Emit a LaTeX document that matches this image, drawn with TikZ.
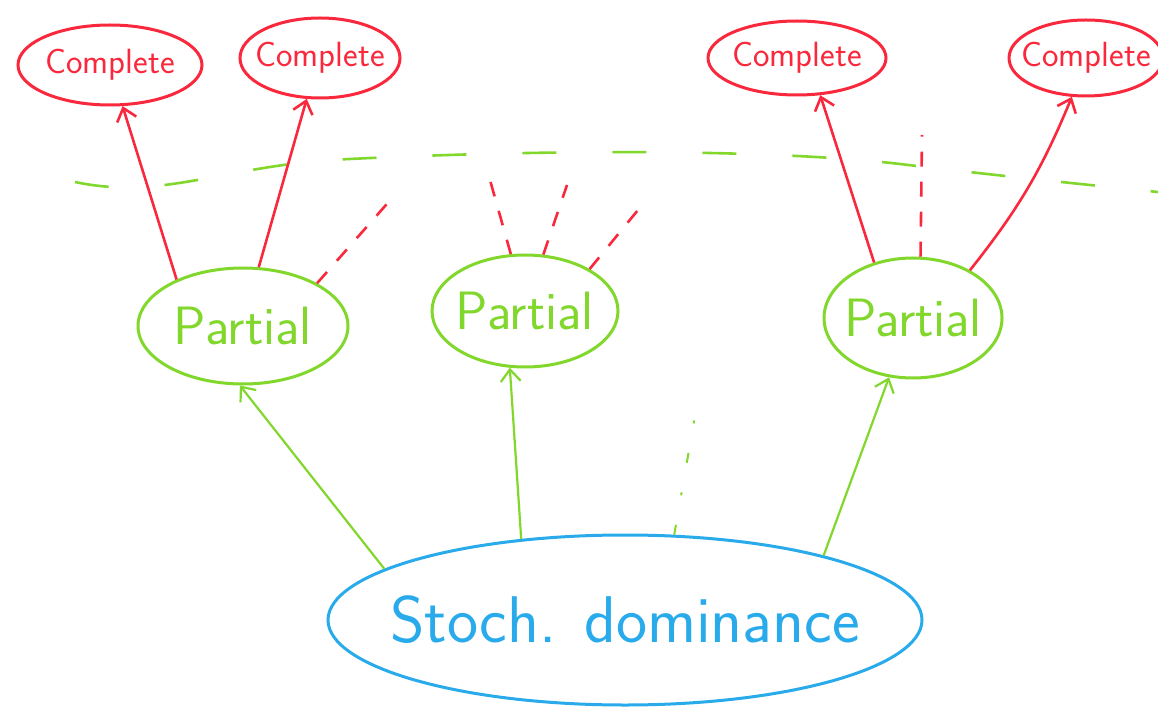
\documentclass[tikz,border=0pt]{standalone}
\usepackage{fontspec}
\usepackage{tikz}
\usetikzlibrary{shapes,arrows,arrows.meta,positioning,fit}

\definecolor{RedInk}{RGB}{250,40,60}
\definecolor{GreenInk}{RGB}{130,215,45}
\definecolor{BlueInk}{RGB}{40,170,235}

\begin{document}
\begin{tikzpicture}[x=1pt,y=-1pt]
			\tikzstyle{Oval}	= [ellipse, draw, inner ysep=0pt, line width=3pt]
			\tikzstyle{Complete}	= [Oval, RedInk, inner xsep=-22pt, font=\sffamily\fontsize{35}{40}\selectfont]
			\tikzstyle{Partial}	= [Oval, GreenInk, inner xsep=-12pt, font=\sffamily\fontsize{54}{58}\selectfont]
			\tikzstyle{Stoch}	= [Oval, BlueInk, inner xsep=-35pt, font=\sffamily\fontsize{66}{70}\selectfont]
			\tikzstyle{RA}		= [line width=2.6pt, RedInk, -{Straight Barb[length=12pt,width=20pt]}]
			\tikzstyle{GA}		= [line width=2.2pt, GreenInk, -{Straight Barb[length=12pt,width=20pt]}]
			\tikzstyle{RD}		= [line width=2.6pt, RedInk, dash pattern=on 15pt off 15pt]
			\tikzstyle{GD}		= [line width=2.6pt, GreenInk, dash pattern=on 34pt off 56pt]
			\tikzstyle{GDot}	= [line width=2pt, GreenInk, dash pattern=on 10pt off 30pt on 3pt off 30pt]

			\useasboundingbox (0,0) rectangle (1158,708);

			\node (c1) at (110,65) [Complete, minimum width=184pt, minimum height=80pt] {Complete};
			\node (c2) at (320,58) [Complete, minimum width=160pt, minimum height=80pt] {Complete};
			\node (c3) at (797,58) [Complete, minimum width=178pt, minimum height=74pt] {Complete};
			\node (c4) at (1086,58) [Complete, minimum width=154pt, minimum height=76pt] {Complete};

			\node (p1) at (243,326) [Partial, minimum width=210pt, minimum height=116pt] {Partial};
			\node (p2) at (525,311) [Partial, minimum width=186pt, minimum height=112pt] {Partial};
			\node (p3) at (913,318) [Partial, minimum width=178pt, minimum height=120pt] {Partial};

			\node (sd) at (625,620) [Stoch, minimum width=594pt, minimum height=170pt] {Stoch. dominance};

			% free ends of the dashed lines
			\coordinate (r1) at (393,197);
			\coordinate (r2) at (490,180);
			\coordinate (r3) at (567,185);
			\coordinate (r4) at (638,210);
			\coordinate (r5) at (922,135);
			\coordinate (g1) at (696,410);

			\draw (75,182) .. controls (160,200) and (220,168) .. (330,160)
				.. controls (560,148) and (780,150) .. (900,164)
				.. controls (1000,176) and (1100,186) .. (1158,192) [GD];

			\draw [-] (sd.168) to (p1.-93) [GA];
			\draw [-] (sd.142) to (p2.-105) [GA];
			\draw [-] (sd.18) to (p3.-112) [GA];
			\draw [-] (sd.60) to (g1) [GDot];

			\draw [-] (p1.145) to (c1.-73) [RA];
			\draw [-] (p1.75) to (c2.-108) [RA];
			\draw [-] (p3.125) to (c3.-58) [RA];
			\draw [-] (p3.40) to[bend right=8] (c4.-110) [RA];

			\draw [-] (p1.30) to (r1) [RD];
			\draw [-] (p2.104) to (r2) [RD];
			\draw [-] (p2.72) to (r3) [RD];
			\draw [-] (p2.33) to (r4) [RD];
			\draw [-] (p3.83) to (r5) [RD];
		\end{tikzpicture}
\end{document}
